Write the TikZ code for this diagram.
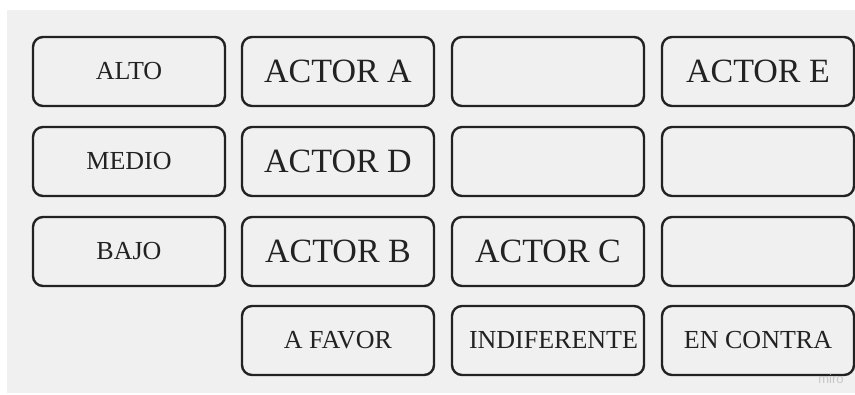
\documentclass[tikz,border=0pt]{standalone}
\usepackage{fontspec}
\setmainfont{Liberation Serif}
\newfontfamily\wmfont{Liberation Sans}
\definecolor{panel}{HTML}{F0F0F0}
\definecolor{ink}{HTML}{222222}
\begin{document}
\begin{tikzpicture}[x=1pt,y=-1pt,
  cell/.style={draw=ink, line width=2.4pt, rounded corners=10pt,
    minimum width=192pt, minimum height=69pt, inner sep=0pt,
    text=ink, font=\fontsize{26}{30}\selectfont},
  actor/.style={cell, font=\fontsize{34}{38}\selectfont}]
  \useasboundingbox (0,0) rectangle (855,394);
  \fill[white] (0,0) rectangle (855,394);
  \fill[panel] (7,10) rectangle (855,393);

  % level labels
  \node[cell] (alto)  at (129,71.5)  {ALTO};
  \node[cell] (medio) at (129,161.5) {MEDIO};
  \node[cell] (bajo)  at (129,251.5) {BAJO};

  % grid of actors
  \node[actor] (a11) at (338,71.5)  {ACTOR A};
  \node[actor] (a12) at (548,71.5)  {};
  \node[actor] (a13) at (758,71.5)  {ACTOR E};
  \node[actor] (a21) at (338,161.5) {ACTOR D};
  \node[actor] (a22) at (548,161.5) {};
  \node[actor] (a23) at (758,161.5) {};
  \node[actor] (a31) at (338,251.5) {ACTOR B};
  \node[actor] (a32) at (548,251.5) {ACTOR C};
  \node[actor] (a33) at (758,251.5) {};

  % stance labels
  \node[cell] (favor) at (338,340.5) {A FAVOR};
  \node[cell] (indif) at (548,340.5) {\hspace*{11pt}INDIFERENTE};
  \node[cell] (contra) at (758,340.5) {EN CONTRA};

  \node[text=black!22, font=\wmfont\fontsize{13}{15}\selectfont] (wm) at (831,379) {miro};
\end{tikzpicture}
\end{document}
